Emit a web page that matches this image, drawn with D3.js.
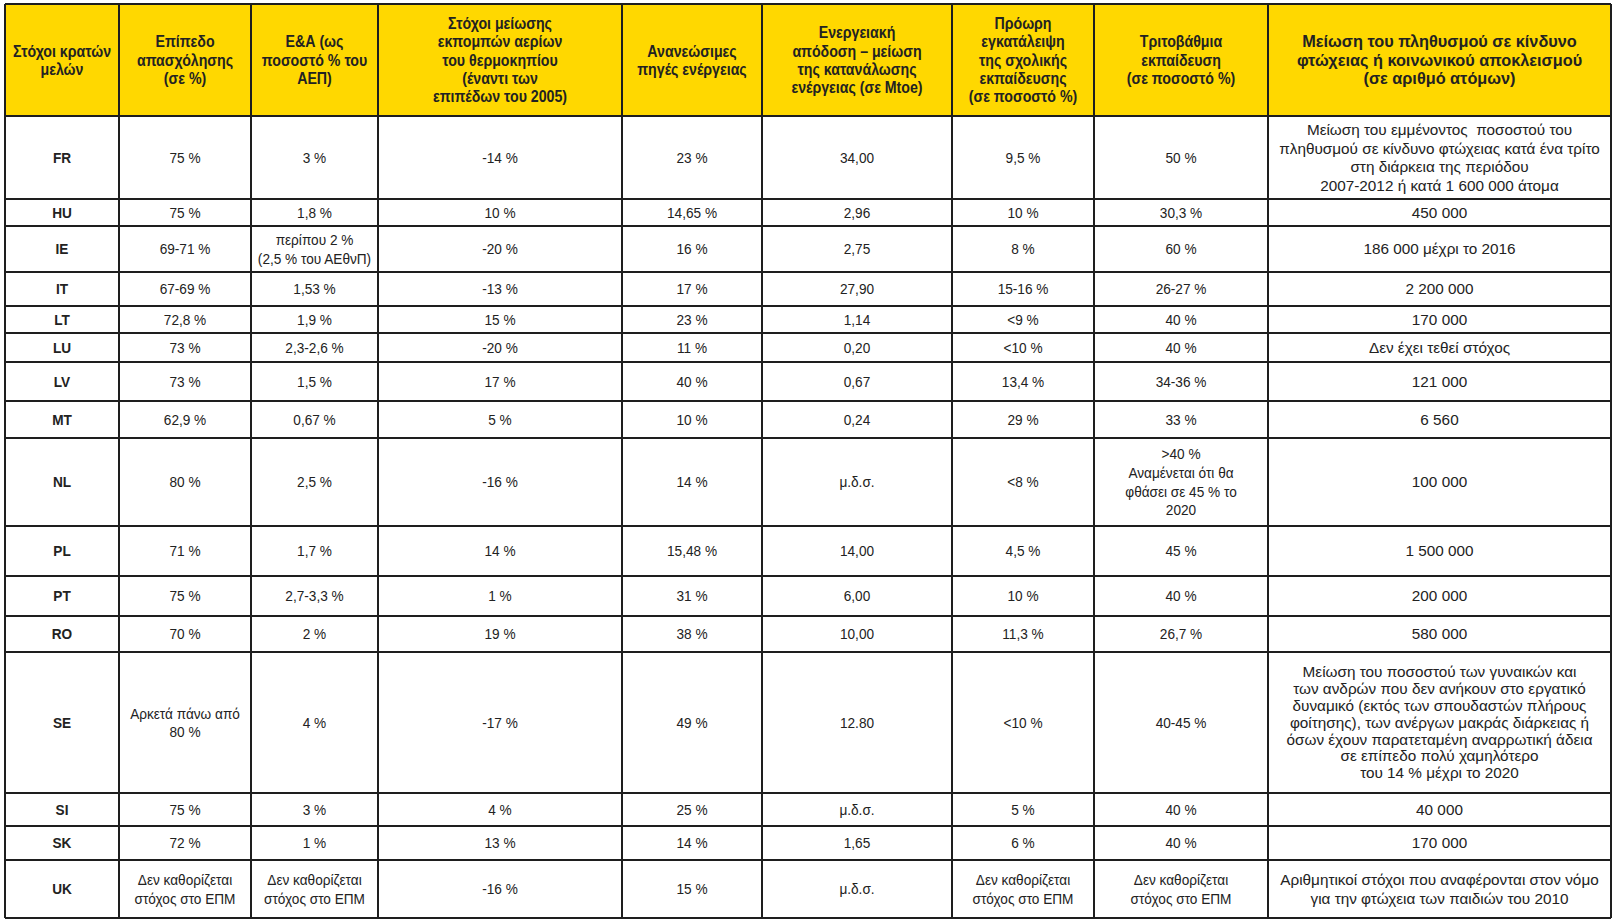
<!DOCTYPE html>
<html>
<head>
<meta charset="utf-8">
<script src="https://cdn.jsdelivr.net/npm/d3@7"></script>
<style>
  html, body { margin: 0; padding: 0; background: #ffffff; }
  svg { display: block; }
  text { white-space: pre; }
</style>
</head>
<body>
<svg id="chart" width="1616" height="923"></svg>
<script>
// ---------------- DATA ----------------
const headers = [
  "Στόχοι κρατών\nμελών",
  "Επίπεδο\nαπασχόλησης\n(σε %)",
  "Ε&Α (ως\nποσοστό % του\nΑΕΠ)",
  "Στόχοι μείωσης\nεκπομπών αερίων\nτου θερμοκηπίου\n(έναντι των\nεπιπέδων του 2005)",
  "Ανανεώσιμες\nπηγές ενέργειας",
  "Ενεργειακή\nαπόδοση – μείωση\nτης κατανάλωσης\nενέργειας (σε Mtoe)",
  "Πρόωρη\nεγκατάλειψη\nτης σχολικής\nεκπαίδευσης\n(σε ποσοστό %)",
  "Τριτοβάθμια\nεκπαίδευση\n(σε ποσοστό %)",
  "Μείωση του πληθυσμού σε κίνδυνο\nφτώχειας ή κοινωνικού αποκλεισμού\n(σε αριθμό ατόμων)"
];

const countries = ["FR","HU","IE","IT","LT","LU","LV","MT","NL","PL","PT","RO","SE","SI","SK","UK"];

const employment = ["75 %","75 %","69-71 %","67-69 %","72,8 %","73 %","73 %","62,9 %","80 %","71 %","75 %","70 %",
  "Αρκετά πάνω από\n80 %","75 %","72 %","Δεν καθορίζεται\nστόχος στο ΕΠΜ"];

const researchDev = ["3 %","1,8 %","περίπου 2 %\n(2,5 % του ΑΕθνΠ)","1,53 %","1,9 %","2,3-2,6 %","1,5 %","0,67 %","2,5 %",
  "1,7 %","2,7-3,3 %","2 %","4 %","3 %","1 %","Δεν καθορίζεται\nστόχος στο ΕΠΜ"];

const emissions = ["-14 %","10 %","-20 %","-13 %","15 %","-20 %","17 %","5 %","-16 %","14 %","1 %","19 %","-17 %","4 %","13 %","-16 %"];

const renewables = ["23 %","14,65 %","16 %","17 %","23 %","11 %","40 %","10 %","14 %","15,48 %","31 %","38 %","49 %","25 %","14 %","15 %"];

const efficiency = ["34,00","2,96","2,75","27,90","1,14","0,20","0,67","0,24","μ.δ.σ.","14,00","6,00","10,00","12.80","μ.δ.σ.","1,65","μ.δ.σ."];

const earlyLeaving = ["9,5 %","10 %","8 %","15-16 %","<9 %","<10 %","13,4 %","29 %","<8 %","4,5 %","10 %","11,3 %","<10 %","5 %","6 %",
  "Δεν καθορίζεται\nστόχος στο ΕΠΜ"];

const tertiary = ["50 %","30,3 %","60 %","26-27 %","40 %","40 %","34-36 %","33 %",
  ">40 %\nΑναμένεται ότι θα\nφθάσει σε 45 % το\n2020","45 %","40 %","26,7 %","40-45 %","40 %","40 %",
  "Δεν καθορίζεται\nστόχος στο ΕΠΜ"];

const poverty = [
  "Μείωση του εμμένοντος  ποσοστού του\nπληθυσμού σε κίνδυνο φτώχειας κατά ένα τρίτο\nστη διάρκεια της περιόδου\n2007-2012 ή κατά 1 600 000 άτομα",
  "450 000","186 000 μέχρι το 2016","2 200 000","170 000","Δεν έχει τεθεί στόχος","121 000","6 560","100 000","1 500 000",
  "200 000","580 000",
  "Μείωση του ποσοστού των γυναικών και\nτων ανδρών που δεν ανήκουν στο εργατικό\nδυναμικό (εκτός των σπουδαστών πλήρους\nφοίτησης), των ανέργων μακράς διάρκειας ή\nόσων έχουν παρατεταμένη αναρρωτική άδεια\nσε επίπεδο πολύ χαμηλότερο\nτου 14 % μέχρι το 2020",
  "40 000","170 000",
  "Αριθμητικοί στόχοι που αναφέρονται στον νόμο\nγια την φτώχεια των παιδιών του 2010"
];

// ---------------- LAYOUT ----------------
const colEdges = [5, 119, 251, 378, 622, 762, 952, 1094, 1268, 1611];
const rowEdges = [4, 116, 199, 226, 272, 306, 333, 362, 401, 438, 526, 576, 616, 652, 793, 826, 860, 918];

const columns = [countries, employment, researchDev, emissions, renewables, efficiency, earlyLeaving, tertiary, poverty];
const rowKeys = ["header"].concat(countries);
const colKeys = d3.range(columns.length);

const xLeft = d3.scaleOrdinal().domain(colKeys).range(colEdges.slice(0, -1));
const xRight = d3.scaleOrdinal().domain(colKeys).range(colEdges.slice(1));
const yTop = d3.scaleOrdinal().domain(rowKeys).range(rowEdges.slice(0, -1));
const yBottom = d3.scaleOrdinal().domain(rowKeys).range(rowEdges.slice(1));

const svg = d3.select("#chart");
const lineColor = "#1e1e1e";
const textColor = "#222222";

// header background
svg.append("rect")
  .attr("x", colEdges[0]).attr("y", yTop("header"))
  .attr("width", colEdges[colEdges.length - 1] - colEdges[0])
  .attr("height", yBottom("header") - yTop("header"))
  .attr("fill", "#FFD800");

// cells
const cells = [];
colKeys.forEach(c => {
  cells.push({ row: "header", col: c, text: headers[c], header: true });
  countries.forEach((k, i) => {
    cells.push({ row: k, col: c, text: columns[c][i], header: false });
  });
});

function cellStyle(d, nLines) {
  if (d.header) {
    return d.col === 8
      ? { fs: 16.3, bold: true, sx: 1, lh: 18.3 }
      : { fs: 16.3, bold: true, sx: 0.87, lh: 18.3 };
  }
  if (d.col === 0) return { fs: 15.5, bold: true, sx: 0.88, lh: 18.7 };
  if (d.col === 8) return { fs: 15.3, bold: false, sx: 1, lh: nLines >= 6 ? 16.8 : 18.7 };
  return { fs: 15.5, bold: false, sx: 0.88, lh: 18.7 };
}

const cellG = svg.append("g");
cells.forEach(d => {
  const x0 = xLeft(d.col), x1 = xRight(d.col);
  const y0 = yTop(d.row), y1 = yBottom(d.row);
  const cx = (x0 + x1) / 2, cy = (y0 + y1) / 2;
  const lines = d.text.split("\n");
  const st = cellStyle(d, lines.length);
  const t = cellG.append("text")
    .attr("font-family", "'Liberation Sans', Arial, sans-serif")
    .attr("font-size", st.fs)
    .attr("font-weight", st.bold ? "bold" : "normal")
    .attr("fill", textColor)
    .attr("text-anchor", "middle")
    .attr("transform", `translate(${cx},${cy}) scale(${st.sx},1)`);
  lines.forEach((ln, i) => {
    t.append("tspan")
      .attr("x", 0)
      .attr("y", (i - (lines.length - 1) / 2) * st.lh + st.fs * 0.35)
      .text(ln);
  });
});

// grid lines
const grid = svg.append("g").attr("stroke", lineColor).attr("stroke-width", 1.3).attr("shape-rendering", "crispEdges");
rowEdges.forEach(y => {
  grid.append("line").attr("x1", colEdges[0]).attr("x2", colEdges[colEdges.length - 1]).attr("y1", y).attr("y2", y);
});
colEdges.forEach(x => {
  grid.append("line").attr("x1", x).attr("x2", x).attr("y1", rowEdges[0]).attr("y2", rowEdges[rowEdges.length - 1]);
});
</script>
</body>
</html>
